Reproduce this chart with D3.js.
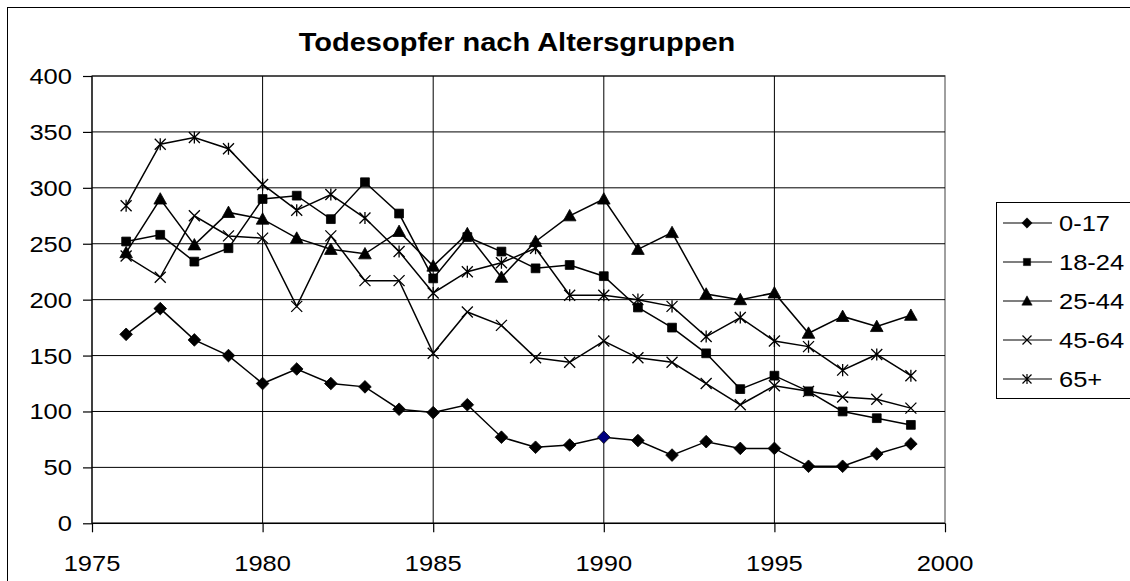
<!DOCTYPE html>
<html>
<head>
<meta charset="utf-8">
<script src="https://cdn.jsdelivr.net/npm/d3@7"></script>
<style>
  body { margin: 0; background: #fff; }
  svg { display: block; font-family: Arial, "Liberation Sans", sans-serif; }
</style>
</head>
<body>
<svg id="chart" width="1130" height="581"></svg>
<script>
const years = d3.range(1976, 2000);
const groups = ['0-17', '18-24', '25-44', '45-64', '65+'];

const v0_17 = [169, 192, 164, 150, 125, 138, 125, 122, 102, 99, 106, 77, 68, 70, 77, 74, 61, 73, 67, 67, 51, 51, 62, 71];
const v18_24 = [252, 258, 234, 246, 290, 293, 272, 305, 277, 219, 256, 243, 228, 231, 221, 193, 175, 152, 120, 132, 118, 100, 94, 88];
const v25_44 = [242, 290, 249, 278, 272, 255, 245, 241, 261, 230, 259, 220, 252, 275, 290, 245, 260, 205, 200, 206, 170, 185, 176, 186];
const v45_64 = [239, 220, 275, 257, 255, 194, 257, 217, 217, 152, 189, 177, 148, 144, 163, 148, 144, 125, 106, 123, 118, 113, 111, 103];
const v65plus = [284, 339, 345, 335, 303, 280, 294, 273, 243, 206, 225, 233, 246, 204, 204, 200, 194, 167, 184, 163, 158, 137, 151, 132];

const seriesValues = [v0_17, v18_24, v25_44, v45_64, v65plus];
const markerKinds = ['diamond', 'square', 'triangle', 'cross', 'star'];

const yTicks = [0, 50, 100, 150, 200, 250, 300, 350, 400];
const xTicks = [1975, 1980, 1985, 1990, 1995, 2000];

const svg = d3.select('#chart');
const plot = { left: 92, right: 945, top: 76, bottom: 523.3 };
const stretch = 1.16; // the source text is a little wider than Arial

const x = d3.scaleLinear().domain([1975, 2000]).range([plot.left, plot.right]);
const y = d3.scaleLinear().domain([0, 400]).range([plot.bottom, plot.top]);

function label(g, px, py, str, anchor, size, weight) {
  return g.append('text')
    .attr('transform', `translate(${px},${py}) scale(${stretch},1)`)
    .attr('text-anchor', anchor)
    .attr('font-size', size)
    .attr('font-weight', weight || 'normal')
    .attr('fill', '#000')
    .text(str);
}

// outer chart border (cut off at right/bottom)
svg.append('rect')
  .attr('x', 7.5).attr('y', 7.5)
  .attr('width', 1140).attr('height', 620)
  .attr('fill', 'none').attr('stroke', '#000').attr('stroke-width', 1);

// title
label(svg, 517, 51, 'Todesopfer nach Altersgruppen', 'middle', 25, 'bold');

// plot area border
svg.append('rect')
  .attr('x', plot.left).attr('y', plot.top)
  .attr('width', plot.right - plot.left).attr('height', plot.bottom - plot.top)
  .attr('fill', 'none').attr('stroke', '#808080').attr('stroke-width', 1.5);

// gridlines
svg.append('g')
  .selectAll('line')
  .data(yTicks)
  .join('line')
    .attr('x1', plot.left).attr('x2', plot.right)
    .attr('y1', d => y(d)).attr('y2', d => y(d))
    .attr('stroke', '#000').attr('stroke-width', 1);

svg.append('g')
  .selectAll('line')
  .data(xTicks.slice(1, -1))
  .join('line')
    .attr('x1', d => x(d)).attr('x2', d => x(d))
    .attr('y1', plot.top).attr('y2', plot.bottom)
    .attr('stroke', '#000').attr('stroke-width', 1);

// axes (ticks + domain from d3, labels drawn separately)
const yAxis = svg.append('g')
  .attr('transform', `translate(${plot.left},0)`)
  .call(d3.axisLeft(y).tickValues(yTicks).tickSize(9).tickFormat(''));
const xAxis = svg.append('g')
  .attr('transform', `translate(0,${plot.bottom})`)
  .call(d3.axisBottom(x).tickValues(xTicks).tickSize(9).tickFormat(''));

[yAxis, xAxis].forEach(g => {
  g.select('.domain').attr('stroke', '#000').attr('stroke-width', 1.2);
  g.selectAll('.tick line').attr('stroke', '#000').attr('stroke-width', 1.2);
});
yAxis.select('.domain').attr('d', `M0,${plot.top}V${plot.bottom}`);
xAxis.select('.domain').attr('d', `M${plot.left},0H${plot.right}`);

const yLabels = svg.append('g');
yTicks.forEach(t => label(yLabels, 72, y(t) + 8, String(t), 'end', 22));
const xLabels = svg.append('g');
xTicks.forEach(t => label(xLabels, x(t), 571, String(t), 'middle', 22));

// marker shapes; s is the nominal size in px
function markerPath(kind, s) {
  const r = s / 2;
  switch (kind) {
    case 'diamond': return `M0,${-r * 1.15}L${r * 1.15},0L0,${r * 1.15}L${-r * 1.15},0Z`;
    case 'square': { const h = r * 0.8; return `M${-h},${-h}H${h}V${h}H${-h}Z`; }
    case 'triangle': { const t = r * 1.15; return `M0,${-t}L${t},${t * 0.8}L${-t},${t * 0.8}Z`; }
    case 'cross': { const h = r; return `M${-h},${-h}L${h},${h}M${-h},${h}L${h},${-h}`; }
    case 'star': { const h = r; return `M${-h},${-h}L${h},${h}M${-h},${h}L${h},${-h}M0,${-r * 1.1}V${r * 1.1}`; }
  }
}
const filled = k => k === 'diamond' || k === 'square' || k === 'triangle';

const line = d3.line().x(d => x(d.year)).y(d => y(d.value));

seriesValues.forEach((vals, i) => {
  const data = years.map((yr, j) => ({ year: yr, value: vals[j] }));
  const kind = markerKinds[i];
  const g = svg.append('g');
  g.append('path')
    .datum(data)
    .attr('d', line)
    .attr('fill', 'none').attr('stroke', '#000').attr('stroke-width', 1.5);
  g.selectAll('path.m')
    .data(data)
    .join('path')
      .attr('class', 'm')
      .attr('transform', d => `translate(${x(d.year)},${y(d.value)})`)
      .attr('d', markerPath(kind, 11))
      .attr('fill', d => filled(kind) ? (kind === 'diamond' && d.year === 1990 ? '#000080' : '#000') : 'none')
      .attr('stroke', '#000')
      .attr('stroke-width', filled(kind) ? 0.8 : 1.3);
});

// legend
const legend = svg.append('g');
legend.append('rect')
  .attr('x', 996.5).attr('y', 202.5)
  .attr('width', 160).attr('height', 196)
  .attr('fill', '#fff').attr('stroke', '#000').attr('stroke-width', 1);

groups.forEach((name, i) => {
  const ly = 223 + i * 39;
  const kind = markerKinds[i];
  legend.append('line')
    .attr('x1', 1003).attr('x2', 1052).attr('y1', ly).attr('y2', ly)
    .attr('stroke', '#000').attr('stroke-width', 1.2);
  legend.append('path')
    .attr('transform', `translate(1027,${ly})`)
    .attr('d', markerPath(kind, 9))
    .attr('fill', filled(kind) ? '#000' : 'none')
    .attr('stroke', '#000').attr('stroke-width', filled(kind) ? 0.5 : 1.2);
  label(legend, 1059, ly + 8, name, 'start', 22);
});
</script>
</body>
</html>
